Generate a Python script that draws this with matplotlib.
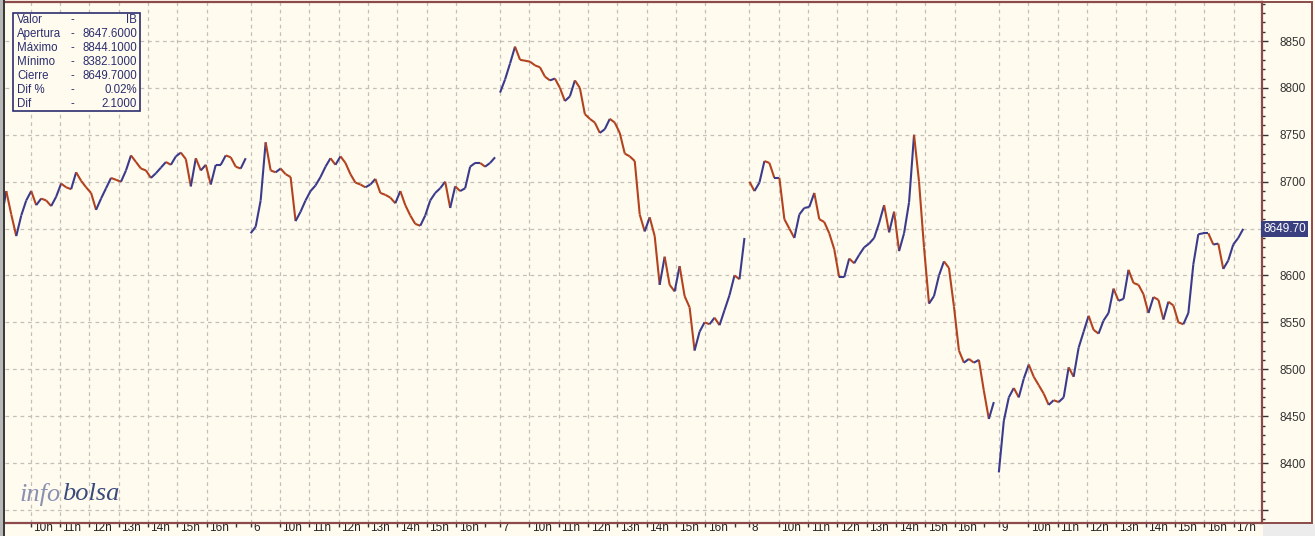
import matplotlib.pyplot as plt
import matplotlib.transforms as mtransforms
from matplotlib.collections import LineCollection
from matplotlib.patches import Rectangle

# ~10 minute samples of the IBEX price, 50 per session (9:00-17:30)
day5 = [8660, 8690, 8665, 8642, 8664, 8680, 8690, 8675, 8682, 8680,
        8674, 8684, 8698, 8694, 8692, 8710, 8701, 8694, 8688, 8670,
        8682, 8693, 8704, 8702, 8700, 8712, 8728, 8721, 8714, 8712,
        8704, 8709, 8715, 8721, 8718, 8727, 8731, 8724, 8695, 8725,
        8712, 8718, 8697, 8718, 8718, 8728, 8726, 8716, 8714, 8725]
day6 = [8645, 8652, 8680, 8742, 8712, 8710, 8714, 8708, 8705, 8658,
        8668, 8680, 8690, 8696, 8705, 8716, 8725, 8718, 8727, 8720,
        8708, 8699, 8697, 8694, 8697, 8703, 8688, 8686, 8683, 8677,
        8690, 8675, 8664, 8655, 8653, 8664, 8680, 8688, 8693, 8700,
        8672, 8695, 8690, 8693, 8716, 8720, 8720, 8716, 8720, 8726]
day7 = [8795, 8809, 8826, 8844, 8830, 8829, 8828, 8824, 8822, 8812,
        8808, 8810, 8800, 8786, 8791, 8808, 8800, 8772, 8767, 8763,
        8752, 8756, 8767, 8763, 8752, 8730, 8727, 8722, 8665, 8647,
        8662, 8642, 8590, 8620, 8590, 8583, 8610, 8578, 8566, 8520,
        8540, 8550, 8548, 8555, 8547, 8563, 8579, 8600, 8596, 8640]
day8 = [8700, 8690, 8699, 8722, 8720, 8704, 8704, 8660, 8650, 8640,
        8665, 8672, 8673, 8688, 8660, 8657, 8645, 8628, 8598, 8598,
        8618, 8613, 8622, 8630, 8634, 8640, 8656, 8675, 8646, 8668,
        8626, 8645, 8678, 8750, 8700, 8630, 8570, 8578, 8600, 8615,
        8608, 8567, 8520, 8507, 8511, 8507, 8510, 8477, 8447, 8465]
day9 = [8390, 8445, 8470, 8480, 8470, 8490, 8505, 8492, 8483, 8474,
        8462, 8467, 8465, 8470, 8502, 8492, 8523, 8540, 8557, 8542,
        8538, 8552, 8560, 8586, 8573, 8575, 8606, 8592, 8590, 8580,
        8560, 8577, 8574, 8553, 8572, 8568, 8550, 8548, 8560, 8612,
        8644, 8645, 8645, 8633, 8634, 8607, 8616, 8633, 8640, 8649.7]
sessions = [day5, day6, day7, day8, day9]

day_labels = ["6", "7", "8", "9"]
hour_labels = ["10h", "11h", "12h", "13h", "14h", "15h", "16h"]

info_names = ["Valor", "Apertura", "Máximo", "Mínimo", "Cierre", "Dif %", "Dif"]
info_values = ["IB", "8647.6000", "8844.1000", "8382.1000", "8649.7000", "0.02%", "2.1000"]
last_price = 8649.70

BG = "#fffbef"
UP = "#3b3b8c"
DOWN = "#b3431f"
BORDER = "#8c4a4a"
NAVY = "#2b2e6e"
SESSION = 8.5  # hours per session
STEP = 0.17

W, H = 1315, 536
fig = plt.figure(figsize=(W / 100, H / 100), dpi=100, facecolor=BG)
ax = fig.add_axes([5 / W, 13.5 / H, 1257 / W, 520.5 / H], facecolor=BG)

# one coloured segment per sample: blue when the price rose, red when it fell
for d, vals in enumerate(sessions):
    xs = [d * SESSION + i * STEP for i in range(len(vals))]
    segs, cols = [], []
    for i in range(1, len(vals)):
        segs.append([(xs[i - 1], vals[i - 1]), (xs[i], vals[i])])
        cols.append(UP if vals[i] >= vals[i - 1] else DOWN)
    ax.add_collection(LineCollection(segs, colors=cols, linewidths=1.5, zorder=3))

ax.set_xlim(0.126, 42.97)
ax.set_ylim(8336.6, 8891.6)

# x ticks: day starts + 10h..16h labelled, 17h unlabelled except on the last day
major_pos, major_lab, minor_pos = [], [], []
for d in range(5):
    if d > 0:
        major_pos.append(d * SESSION)
        major_lab.append(day_labels[d - 1])
    for k, lab in enumerate(hour_labels):
        major_pos.append(d * SESSION + k + 1)
        major_lab.append(lab)
    if d < 4:
        minor_pos.append(d * SESSION + 8)
major_pos.append(4 * SESSION + 8)
major_lab.append("17h")
ax.set_xticks(major_pos)
ax.set_xticklabels(major_lab)
ax.set_xticks(minor_pos, minor=True)
ax.tick_params(axis="x", which="both", length=2.9, width=1, color="#333333",
               direction="out", pad=-3.2, labelsize=8.5, labelcolor="#222222")

offset = mtransforms.ScaledTranslation(2.5 / 100, 0, fig.dpi_scale_trans)
for lab in ax.get_xticklabels():
    lab.set_ha("left")
    lab.set_fontfamily("Liberation Sans")
    lab.set_transform(lab.get_transform() + offset)

# y axis on the right
ax.yaxis.tick_right()
yt = list(range(8350, 8900, 50))
ax.set_yticks(yt)
ax.set_yticklabels(["" if v in (8350, 8650) else str(v) for v in yt])
ax.set_yticks(list(range(8340, 8891, 10)), minor=True)
ax.tick_params(axis="y", which="major", length=4.3, width=1, color="#333333",
               pad=8.5, labelsize=8.5, labelcolor="#333333")
ax.tick_params(axis="y", which="minor", length=2.2, width=1, color="#333333")
for lab in ax.get_yticklabels():
    lab.set_fontfamily("Liberation Sans")

ax.grid(True, which="major", color="#c4c0b8", linestyle=(0, (3, 3)), linewidth=0.9)

for s in ["top", "right", "bottom"]:
    ax.spines[s].set_color(BORDER)
    ax.spines[s].set_linewidth(1.6)
ax.spines["left"].set_visible(False)

# left edge strip
fig.patches.append(Rectangle((0, 0), 3 / W, 1, transform=fig.transFigure,
                             facecolor="#b8b8b8", edgecolor="none", zorder=5))
fig.patches.append(Rectangle((3 / W, 0), 2 / W, 1, transform=fig.transFigure,
                             facecolor="#3a3a3a", edgecolor="none", zorder=5))
# right panel frame and bottom-right corner
fig.patches.append(Rectangle((1262 / W, 13.5 / H), 50 / W, 520.5 / H, transform=fig.transFigure,
                             facecolor="none", edgecolor=BORDER, linewidth=1.4, zorder=5))
fig.patches.append(Rectangle((1263 / W, 0), 52 / W, 12.5 / H, transform=fig.transFigure,
                             facecolor="#ececec", edgecolor="none", zorder=5))

# last price tag
fig.text(1284.5 / W, 1 - 229 / H, f"{last_price:.2f}", ha="center", va="center",
         fontsize=8.5, color="white", family="Liberation Sans", zorder=7,
         bbox=dict(boxstyle="square,pad=0.2", facecolor="#3a3f80", edgecolor="none"))

# info box
fig.patches.append(Rectangle((13 / W, 1 - 111 / H), 127 / W, 98 / H, transform=fig.transFigure,
                             facecolor=BG, edgecolor=NAVY, linewidth=1.2, zorder=6))
for r, (name, val) in enumerate(zip(info_names, info_values)):
    y = 1 - (20 + 14 * r) / H
    fig.text(17 / W, y, name, ha="left", va="center", fontsize=8.3, color=NAVY,
             family="Liberation Sans", zorder=7)
    fig.text(72 / W, y, "-", ha="center", va="center", fontsize=8.3, color=NAVY,
             family="Liberation Sans", zorder=7)
    fig.text(137 / W, y, val, ha="right", va="center", fontsize=8.3, color=NAVY,
             family="Liberation Sans", zorder=7)

# watermark
t1 = fig.text(20 / W, 1 - 494 / H, "info", ha="left", va="center", fontsize=19,
              style="italic", family="Liberation Serif", color="#8b91b2", zorder=7)
fig.canvas.draw()
bb = t1.get_window_extent()
fig.text(bb.x1 / W + 1 / W, 1 - 494 / H, "bolsa", ha="left", va="center", fontsize=19,
         style="italic", family="Liberation Serif", color="#3b4a7c", zorder=7)

fig.savefig("out.png", dpi=100, facecolor=BG)
